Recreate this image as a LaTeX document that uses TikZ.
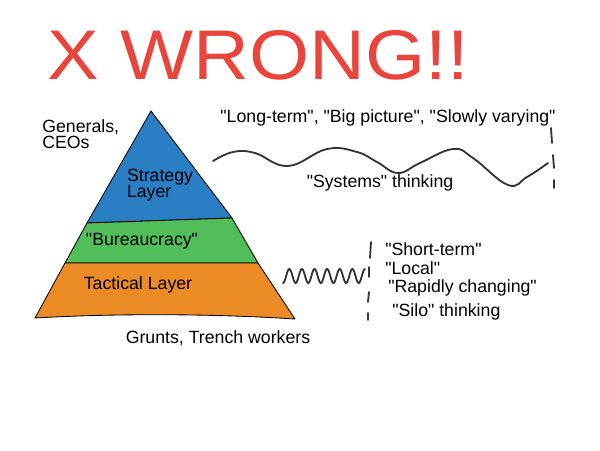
\documentclass[tikz,border=0pt]{standalone}
\usepackage{fontspec}
\setmainfont{Liberation Sans}
\definecolor{stratblue}{HTML}{2A7FC4}
\definecolor{bureaugreen}{HTML}{52BE5A}
\definecolor{tactorange}{HTML}{EC8B25}
\definecolor{wrongred}{HTML}{E8453C}
\definecolor{inkgray}{HTML}{333333}
\newcommand{\qtd}[1]{\textquotedbl#1\textquotedbl}
\begin{document}
\begin{tikzpicture}[x=0.025cm, y=-0.025cm,
    label/.style={font=\fontsize{12.6}{11.8}\selectfont, align=left, inner sep=0pt},
    layer/.style={draw=black, line width=0.6pt, line join=round},
    wave/.style={inkgray, line width=1.3pt, line cap=round}]
        \useasboundingbox (0,0) rectangle (600,450);

        % Title
        \node[wrongred, font=\fontsize{50}{50}\selectfont, xscale=1.1, inner sep=0pt] (wrong) at (258,55) {X WRONG!!};

        % Pyramid layers
        \filldraw[layer, fill=stratblue] (151,111) -- (232,218) -- (87,223) -- cycle;
        \filldraw[layer, fill=bureaugreen] (87,223) -- (232,218) -- (258,263) -- (65,263) -- cycle;
        \filldraw[layer, fill=tactorange] (65,263) -- (258,263) -- (295,319) .. controls (220,314) and (120,313) .. (35,318) -- cycle;

        \node[label] (strategy) at (160,185) {Strategy\\Layer};
        \node[label] (bureau) at (142,241) {\qtd{Bureaucracy}};
        \node[label] (tactical) at (138,285) {Tactical Layer};

        \node[label, anchor=west] (generals) at (42,134) {Generals,\\CEOs};
        \node[label] (grunts) at (218,338) {Grunts, Trench workers};

        % Slow wave
        \node[label] (longterm) at (388,118) {\qtd{Long-term}, \qtd{Big picture}, \qtd{Slowly varying}};
        \draw[wave] plot[smooth, tension=0.7] coordinates {(213,161) (233,152) (255,153) (288,166) (327,149) (357,152) (377,162) (398,173) (420,163) (453,149) (473,158) (508,185) (527,177) (548,163)};
        \draw[wave] (551,128) -- (552,143);
        \draw[wave] (553,155) -- (554,168);
        \draw[wave] (554,180) -- (554,188);
        \node[label] (systems) at (380,183) {\qtd{Systems} thinking};

        % Fast wave
        \draw[wave] plot[domain=0:1, samples=160, smooth] ({283+82*\x}, {276+7*cos(6.5*360*\x)});
        \draw[wave] (371,242) -- (370,258);
        \draw[wave] (369,267) -- (369,277);
        \draw[wave] (369,292) -- (368,302);
        \draw[wave] (368,313) -- (368,320);

        \node[label, anchor=west] (shortterm) at (385,249) {\qtd{Short-term}};
        \node[label, anchor=west] (local) at (385,268) {\qtd{Local}};
        \node[label, anchor=west] (rapid) at (388,288) {\qtd{Rapidly changing}};
        \node[label, anchor=west] (silo) at (392,312) {\qtd{Silo} thinking};
    \end{tikzpicture}
\end{document}
